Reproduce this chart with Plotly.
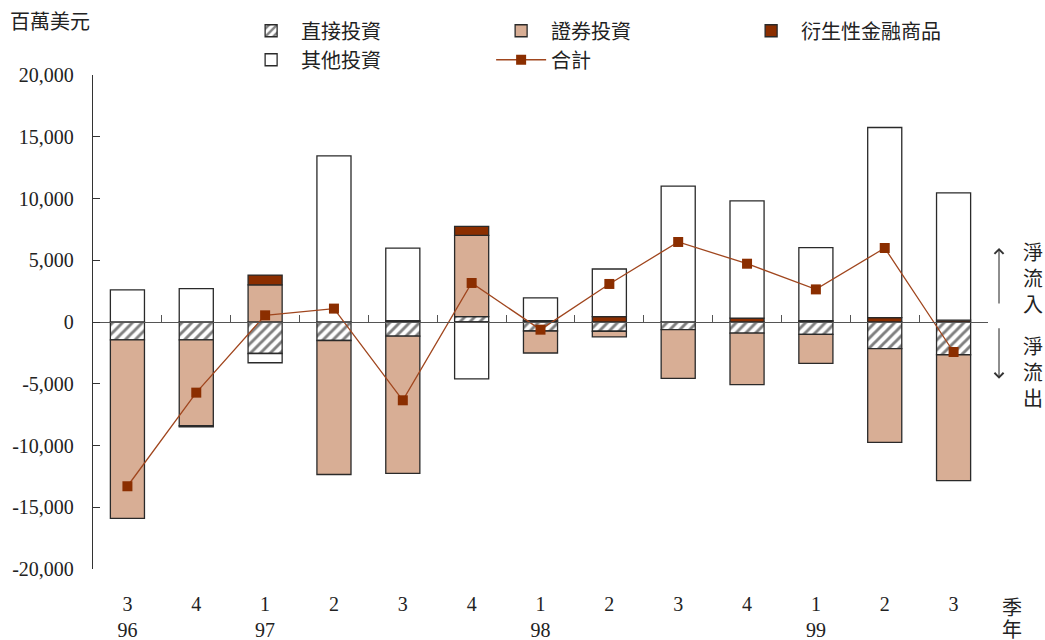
import plotly.graph_objects as go

quarters = ["3", "4", "1", "2", "3", "4", "1", "2", "3", "4", "1", "2", "3"]
years = ["96", "", "97", "", "", "", "98", "", "", "", "99", "", ""]

direct = [-1450, -1450, -2550, -1500, -1150, 430, -730, -750, -620, -900, -1000, -2150, -2650]
portfolio = [-14450, -6950, 3000, -10850, -11100, 6580, -1780, -460, -3940, -4170, -2350, -7600, -10200]
derivative = [0, -80, 800, 0, 100, 730, 100, 430, 0, 320, 100, 350, 150]
other = [2600, 2700, -750, 13450, 5880, -4600, 1850, 3860, 11000, 9480, 5920, 15400, 10300]
total = [-13300, -5720, 540, 1085, -6340, 3160, -620, 3080, 6480, 4720, 2640, 5990, -2430]

y_ticks = [20000, 15000, 10000, 5000, 0, -5000, -10000, -15000, -20000]
y_tick_labels = ["20,000", "15,000", "10,000", "5,000", "0", "-5,000", "-10,000", "-15,000", "-20,000"]
y_range = [-20000, 20000]

FONT = "Liberation Serif, Noto Sans CJK TC, serif"
TAN = "#D8AE95"
DARK = "#8B2E00"
LINE = "#A0461E"
EDGE = "#2a2a2a"

x = list(range(len(quarters)))
ticktext = [f"{q}<br>{y if y else ' '}" for q, y in zip(quarters, years)]

fig = go.Figure()
fig.add_trace(go.Bar(
    x=x, y=direct, name="直接投資",
    marker=dict(color="white", line=dict(color=EDGE, width=1.3),
                pattern=dict(shape="/", fgcolor="#000000", bgcolor="white", size=7, solidity=0.42)),
))
fig.add_trace(go.Bar(
    x=x, y=portfolio, name="證券投資",
    marker=dict(color=TAN, line=dict(color=EDGE, width=1.3)),
))
fig.add_trace(go.Bar(
    x=x, y=derivative, name="衍生性金融商品",
    marker=dict(color=DARK, line=dict(color=EDGE, width=1.3)),
))
fig.add_trace(go.Bar(
    x=x, y=other, name="其他投資",
    marker=dict(color="white", line=dict(color=EDGE, width=1.3)),
))
fig.add_trace(go.Scatter(
    x=x, y=total, name="合計", xaxis="x2", mode="lines+markers",
    line=dict(color=LINE, width=1.3),
    marker=dict(symbol="square", size=10, color=DARK),
))

zero_pos = (0 - y_range[0]) / (y_range[1] - y_range[0])
n = len(quarters)

fig.update_layout(
    width=1045, height=640,
    margin=dict(l=93, r=57, t=75, b=71, autoexpand=False),
    paper_bgcolor="white", plot_bgcolor="white",
    barmode="relative", bargap=0.505,
    font=dict(family=FONT, size=20, color="#222"),
    showlegend=True,
    legend=dict(
        orientation="h", x=0.1655, xanchor="left", y=1.129, yanchor="top",
        traceorder="normal", itemwidth=50, entrywidth=185,
        font=dict(family=FONT, size=20, color="#222"),
        bgcolor="rgba(0,0,0,0)", itemclick=False,
    ),
    xaxis=dict(
        range=[-0.5, n - 0.5], tickmode="array", tickvals=x, ticktext=ticktext,
        showline=False, ticks="", showgrid=False, zeroline=False,
        ticklabelstandoff=21, tickfont=dict(family=FONT, size=20, color="#222"),
    ),
    xaxis2=dict(
        overlaying="x", anchor="free", position=zero_pos, side="bottom",
        range=[-0.5, n - 0.5], tickmode="array",
        tickvals=[i + 0.5 for i in range(n)], showticklabels=False,
        showline=True, linecolor="#555", linewidth=1.3,
        ticks="inside", ticklen=7, tickcolor="#555", tickwidth=1.3,
        showgrid=False, zeroline=False,
    ),
    yaxis=dict(
        range=y_range, tickmode="array", tickvals=y_ticks, ticktext=y_tick_labels,
        showline=True, linecolor="#333", linewidth=1.3,
        ticks="inside", ticklen=7, tickcolor="#333", tickwidth=1.3,
        showgrid=False, zeroline=False, ticklabelstandoff=14,
        tickfont=dict(family=FONT, size=20, color="#222"),
    ),
    annotations=[
        dict(text="百萬美元", xref="paper", yref="paper", x=-0.095, y=1.133,
             xanchor="left", yanchor="top", showarrow=False,
             font=dict(family=FONT, size=20, color="#222")),
        dict(text="季", xref="paper", yref="paper", x=1.027, y=-0.052,
             xanchor="center", yanchor="top", showarrow=False,
             font=dict(family=FONT, size=20, color="#222")),
        dict(text="年", xref="paper", yref="paper", x=1.027, y=-0.097,
             xanchor="center", yanchor="top", showarrow=False,
             font=dict(family=FONT, size=20, color="#222")),
        dict(text="淨<br>流<br>入", xref="paper", yref="paper", x=1.05, y=0.665,
             xanchor="center", yanchor="top", showarrow=False,
             font=dict(family=FONT, size=20, color="#222")),
        dict(text="淨<br>流<br>出", xref="paper", yref="paper", x=1.05, y=0.475,
             xanchor="center", yanchor="top", showarrow=False,
             font=dict(family=FONT, size=20, color="#222")),
        dict(text="", xref="paper", yref="paper", x=1.0123, y=0.65,
             ax=0, ay=57, showarrow=True, arrowhead=4, arrowsize=1.6,
             arrowwidth=1.1, arrowcolor="#333"),
        dict(text="", xref="paper", yref="paper", x=1.0123, y=0.385,
             ax=0, ay=-52, showarrow=True, arrowhead=4, arrowsize=1.6,
             arrowwidth=1.1, arrowcolor="#333"),
    ],
)

fig.write_html(
    "out.html",
    config={"displayModeBar": False},
    post_script="document.body.style.margin='0';document.body.style.overflow='hidden';",
)
